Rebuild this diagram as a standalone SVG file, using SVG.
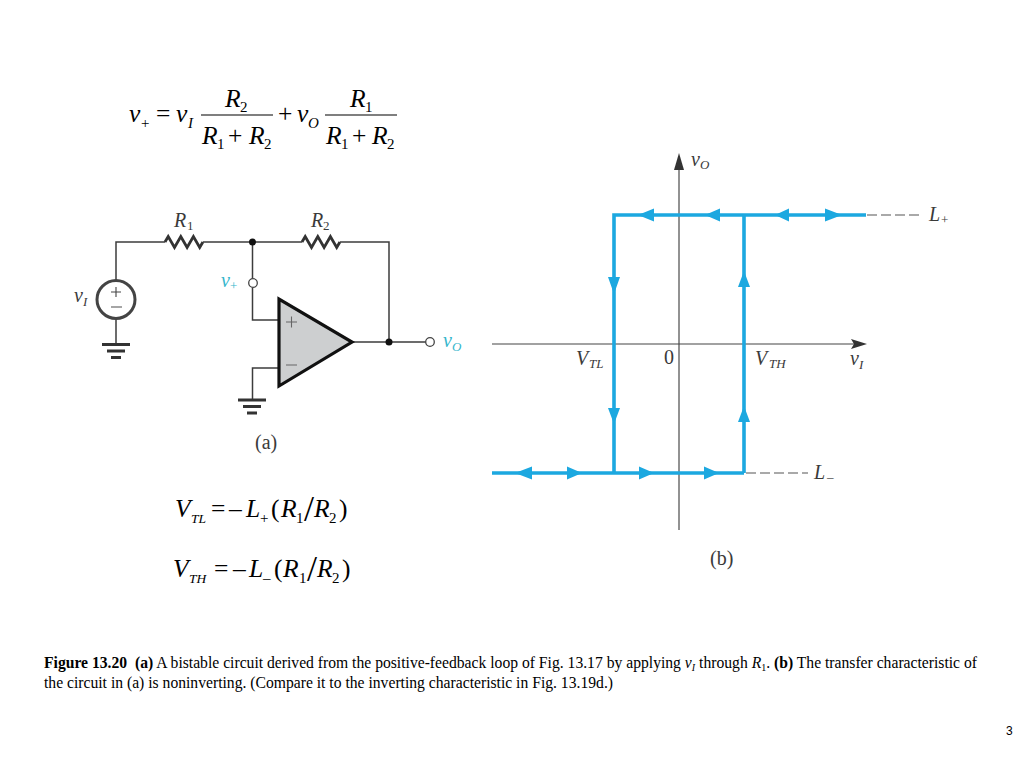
<svg xmlns="http://www.w3.org/2000/svg" width="1024" height="768" viewBox="0 0 1024 768">
<style>
text{font-family:"Liberation Serif",serif;fill:#000}
.eq{font-size:25.500px}
.i{font-style:italic}
.sub{font-size:15px}
.subs{font-size:13.500px}
.sl{font-size:36px}
.fig{fill:#3a3a3a;font-size:20px}
.figs{fill:#3a3a3a;font-size:13px}
.cy{fill:#35b6cc}
.w{fill:none;stroke:#3c3c3c;stroke-width:1.5}
.g{fill:none;stroke:#333;stroke-width:2.800}
.r{fill:none;stroke:#333;stroke-width:2.800}
.ax{fill:none;stroke:#777;stroke-width:1.600}
.ax2{fill:none;stroke:#444;stroke-width:1.200}
.b{fill:none;stroke:#1ca8e0;stroke-width:3.600}
.h{fill:#1ca8e0}
.cap{font-size:15.650px}
.bar{stroke:#000;stroke-width:1.200}
</style>
<rect width="1024" height="768" fill="#fff"/>
<g id="equation-top">
<text class="eq i" x="129" y="122">v</text><text class="sub" x="141" y="128">+</text>
<text class="eq" x="156" y="122">=</text>
<text class="eq i" x="176" y="122">v</text><text class="sub i" x="188" y="128">I</text>
<text class="eq i" x="225" y="107">R</text><text class="sub" x="240" y="112">2</text>
<line class="bar" x1="201" y1="115" x2="273" y2="115"/>
<text class="eq i" x="202" y="144">R</text><text class="sub" x="217" y="149">1</text>
<text class="eq" x="228" y="144">+</text>
<text class="eq i" x="249" y="144">R</text><text class="sub" x="264" y="149">2</text>
<text class="eq" x="278" y="122">+</text>
<text class="eq i" x="297" y="122">v</text><text class="sub i" x="308" y="128">O</text>
<text class="eq i" x="350" y="107">R</text><text class="sub" x="365" y="112">1</text>
<line class="bar" x1="325" y1="115" x2="397" y2="115"/>
<text class="eq i" x="326" y="144">R</text><text class="sub" x="341" y="149">1</text>
<text class="eq" x="352" y="144">+</text>
<text class="eq i" x="372" y="144">R</text><text class="sub" x="387" y="149">2</text>
</g>
<g id="connectors">
<path class="w" d="M116 280V242H165M203 242H302M340 242H389V342M352 342H426M252.500 242V278.500M252.500 287.500V320H279M279 368H252.500V400M116 320V345"/>
</g>
<g id="R1"><path class="r" d="M165 242l3.200-5.500 6.300 11 6.300-11 6.300 11 6.300-11 6.300 11 3.200-5.500"/><text class="fig i" x="174" y="227">R</text><text class="figs" x="187" y="230">1</text></g>
<g id="R2"><path class="r" d="M302 242l3.200-5.500 6.300 11 6.300-11 6.300 11 6.300-11 6.300 11 3.200-5.500"/><text class="fig i" x="311" y="227">R</text><text class="figs" x="323" y="230">2</text></g>
<g id="source">
<circle cx="116" cy="299.500" r="19" fill="#fff" stroke="#444" stroke-width="3"/>
<path d="M116 287v10M111 292h10" stroke="#444" stroke-width="1.100" fill="none"/>
<path d="M111 307h11" stroke="#888" stroke-width="1.500"/>
<text class="fig i" x="74" y="302">v</text><text class="figs i" x="83" y="306">I</text>
</g>
<g id="ground1"><path class="g" d="M102 344.500h28M107 351h18M111 357.500h10"/></g>
<g id="opamp">
<path d="M279 299V386L352 342Z" fill="#cdcfd0" stroke="#111" stroke-width="3.200" stroke-linejoin="miter"/>
<path d="M286 322h11M291.500 316.500v11M286 365h11" stroke="#666" stroke-width="1.100" fill="none"/>
</g>
<g id="ground2"><path class="g" d="M238 400h28M243 406.500h18M247 413h10"/></g>
<g id="node-junction1"><circle cx="252.500" cy="242" r="3.500" fill="#111"/></g>
<g id="node-junction2"><circle cx="389" cy="342" r="3.500" fill="#111"/></g>
<g id="terminal-vplus"><circle cx="253" cy="283" r="4.300" fill="#fff" stroke="#444" stroke-width="1.300"/><text class="fig i cy" x="221" y="287">v</text><text class="figs cy" x="230" y="290">+</text></g>
<g id="terminal-vo"><circle cx="430" cy="342" r="4.300" fill="#fff" stroke="#444" stroke-width="1.300"/><text class="fig i cy" x="443" y="347">v</text><text class="figs i cy" x="452" y="351">O</text></g>
<text id="label-a" class="fig" x="255" y="449">(a)</text>
<g id="equation-vtl">
<text class="eq i" x="175" y="517">V</text><text class="subs i" x="191" y="523">TL</text>
<text class="eq" x="211" y="517">=</text>
<text class="eq" x="229" y="517">–</text>
<text class="eq i" x="246" y="517">L</text><text class="sub" x="260" y="523">+</text>
<text class="eq" x="271" y="517">(</text>
<text class="eq i" x="281" y="517">R</text><text class="sub" x="296" y="523">1</text>
<text class="sl" x="304" y="521">/</text>
<text class="eq i" x="314" y="517">R</text><text class="sub" x="329" y="523">2</text>
<text class="eq" x="339" y="517">)</text>
</g>
<g id="equation-vth">
<text class="eq i" x="173" y="577">V</text><text class="subs i" x="189" y="583">TH</text>
<text class="eq" x="214" y="577">=</text>
<text class="eq" x="233" y="577">–</text>
<text class="eq i" x="249" y="577">L</text><text class="sub" x="263" y="583">–</text>
<text class="eq" x="274" y="577">(</text>
<text class="eq i" x="283" y="577">R</text><text class="sub" x="299" y="583">1</text>
<text class="sl" x="307" y="581">/</text>
<text class="eq i" x="317" y="577">R</text><text class="sub" x="332" y="583">2</text>
<text class="eq" x="342" y="577">)</text>
</g>
<g id="graph-axes">
<path class="ax" d="M679 165V530"/>
<path class="ax2" d="M492 344H855"/>
<path d="M679 153l-5 17h10Z" fill="#333"/>
<path d="M867 344l-16-5 3 5-3 5Z" fill="#333"/>
<path d="M867 215h55M746 473h62" fill="none" stroke="#555" stroke-width="1.200" stroke-dasharray="10 4"/>
</g>
<g id="graph-loop">
<path class="b" d="M866 215H614V473M744 215V473M492 473H744"/>
<path class="h" d="M638 215l16-6.500v13ZM705 215l15-6.500v13ZM775 215l14-6.500v13ZM842 215l-17-6.500v13Z"/>
<path class="h" d="M614 294l-6-17h12ZM614 424l-6-16h12ZM744 271l-6 16h12ZM744 406l-6 16h12Z"/>
<path class="h" d="M515 473l17-6.500v13ZM582 473l-15-6.500v13ZM654 473l-15-6.500v13ZM719 473l-15-6.500v13Z"/>
</g>
<g id="graph-labels">
<text class="fig i" x="691" y="166">v</text><text class="figs i" x="700" y="169">O</text>
<text class="fig i" x="929" y="221">L</text><text class="figs" x="941" y="224">+</text>
<text class="fig i" x="576" y="365">V</text><text class="figs i" x="589" y="368">TL</text>
<text class="fig" x="664" y="364">0</text>
<text class="fig i" x="755" y="365">V</text><text class="figs i" x="769" y="368">TH</text>
<text class="fig i" x="850" y="365">v</text><text class="figs i" x="859" y="369">I</text>
<text class="fig i" x="814" y="479">L</text><text class="figs" x="827" y="481">–</text>
<text class="fig" x="710" y="565">(b)</text>
</g>
<g id="caption">
<text class="cap" x="44" y="668"><tspan font-weight="bold">Figure 13.20 &#160;(a)</tspan> A bistable circuit derived from the positive-feedback loop of Fig. 13.17 by applying <tspan font-style="italic">v</tspan><tspan font-style="italic" font-size="10" dy="3">I</tspan><tspan dy="-3"> through </tspan><tspan font-style="italic">R</tspan><tspan font-size="10" dy="3">1</tspan><tspan dy="-3">. </tspan><tspan font-weight="bold">(b)</tspan> The transfer characteristic of</text>
<text class="cap" x="44" y="688">the circuit in (a) is noninverting. (Compare it to the inverting characteristic in Fig. 13.19d.)</text>
</g>
<text id="page-number" x="1006" y="735" style="font-family:'Liberation Sans',sans-serif;font-size:12px">3</text>
</svg>
